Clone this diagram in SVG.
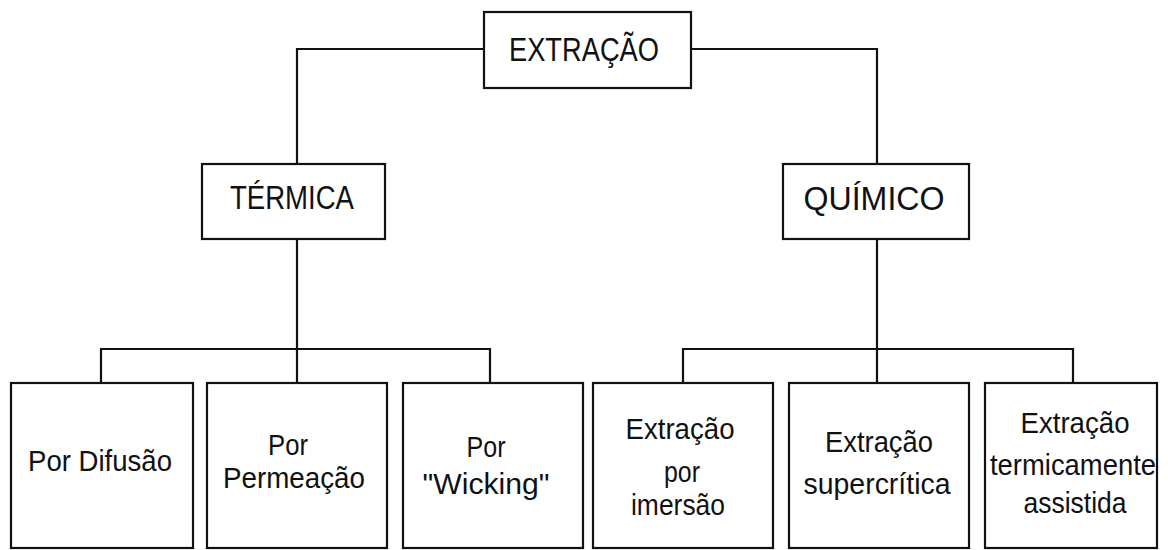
<svg xmlns="http://www.w3.org/2000/svg" width="1168" height="550" viewBox="0 0 1168 550">
<style>
.box{fill:#fff;stroke:#111;stroke-width:2.2}
.ln{fill:none;stroke:#111;stroke-width:2.2}
text{font-family:"Liberation Sans",Arial,sans-serif;fill:#111;text-anchor:middle}
.big{font-size:33px}
.sm{font-size:29px}
</style>
<rect width="1168" height="550" fill="#fff"/>
<g id="connectors">
<polyline class="ln" points="484,49 297,49 297,164"/>
<polyline class="ln" points="691,49 877,49 877,164"/>
<line class="ln" x1="297" y1="239" x2="297" y2="383"/>
<polyline class="ln" points="101,383 101,349 490,349 490,383"/>
<line class="ln" x1="877" y1="239" x2="877" y2="383"/>
<polyline class="ln" points="683,383 683,349 1073,349 1073,383"/>
</g>
<g id="extracao">
<rect class="box" x="484" y="12" width="207" height="76"/>
<text class="big" x="584" y="61" textLength="150" lengthAdjust="spacingAndGlyphs">EXTRAÇÃO</text>
</g>
<g id="termica">
<rect class="box" x="202" y="164" width="183" height="75"/>
<text class="big" x="292" y="209" textLength="124" lengthAdjust="spacingAndGlyphs">TÉRMICA</text>
</g>
<g id="quimico">
<rect class="box" x="783" y="164" width="186" height="75"/>
<text class="big" x="874" y="210" textLength="141" lengthAdjust="spacingAndGlyphs">QUÍMICO</text>
</g>
<g id="difusao">
<rect class="box" x="11" y="383" width="182" height="165"/>
<text class="sm" x="100" y="471" textLength="144" lengthAdjust="spacingAndGlyphs">Por Difusão</text>
</g>
<g id="permeacao">
<rect class="box" x="207" y="383" width="180" height="165"/>
<text class="sm" x="288" y="455" textLength="40" lengthAdjust="spacingAndGlyphs">Por</text>
<text class="sm" x="294" y="488" textLength="142" lengthAdjust="spacingAndGlyphs">Permeação</text>
</g>
<g id="wicking">
<rect class="box" x="403" y="383" width="180" height="165"/>
<text class="sm" x="486" y="457" textLength="39" lengthAdjust="spacingAndGlyphs">Por</text>
<text class="sm" x="486" y="494" textLength="127" lengthAdjust="spacingAndGlyphs">"Wicking"</text>
</g>
<g id="imersao">
<rect class="box" x="593" y="383" width="180" height="165"/>
<text class="sm" x="680" y="439" textLength="109" lengthAdjust="spacingAndGlyphs">Extração</text>
<text class="sm" x="682" y="482" textLength="36" lengthAdjust="spacingAndGlyphs">por</text>
<text class="sm" x="678" y="515" textLength="94" lengthAdjust="spacingAndGlyphs">imersão</text>
</g>
<g id="supercritica">
<rect class="box" x="789" y="383" width="180" height="165"/>
<text class="sm" x="879" y="452" textLength="108" lengthAdjust="spacingAndGlyphs">Extração</text>
<text class="sm" x="877" y="494" textLength="147" lengthAdjust="spacingAndGlyphs">supercrítica</text>
</g>
<g id="termicamente">
<rect class="box" x="985" y="383" width="172" height="165"/>
<text class="sm" x="1075" y="433" textLength="109" lengthAdjust="spacingAndGlyphs">Extração</text>
<text class="sm" x="1073" y="475" textLength="166" lengthAdjust="spacingAndGlyphs">termicamente</text>
<text class="sm" x="1075" y="513" textLength="103" lengthAdjust="spacingAndGlyphs">assistida</text>
</g>
</svg>
